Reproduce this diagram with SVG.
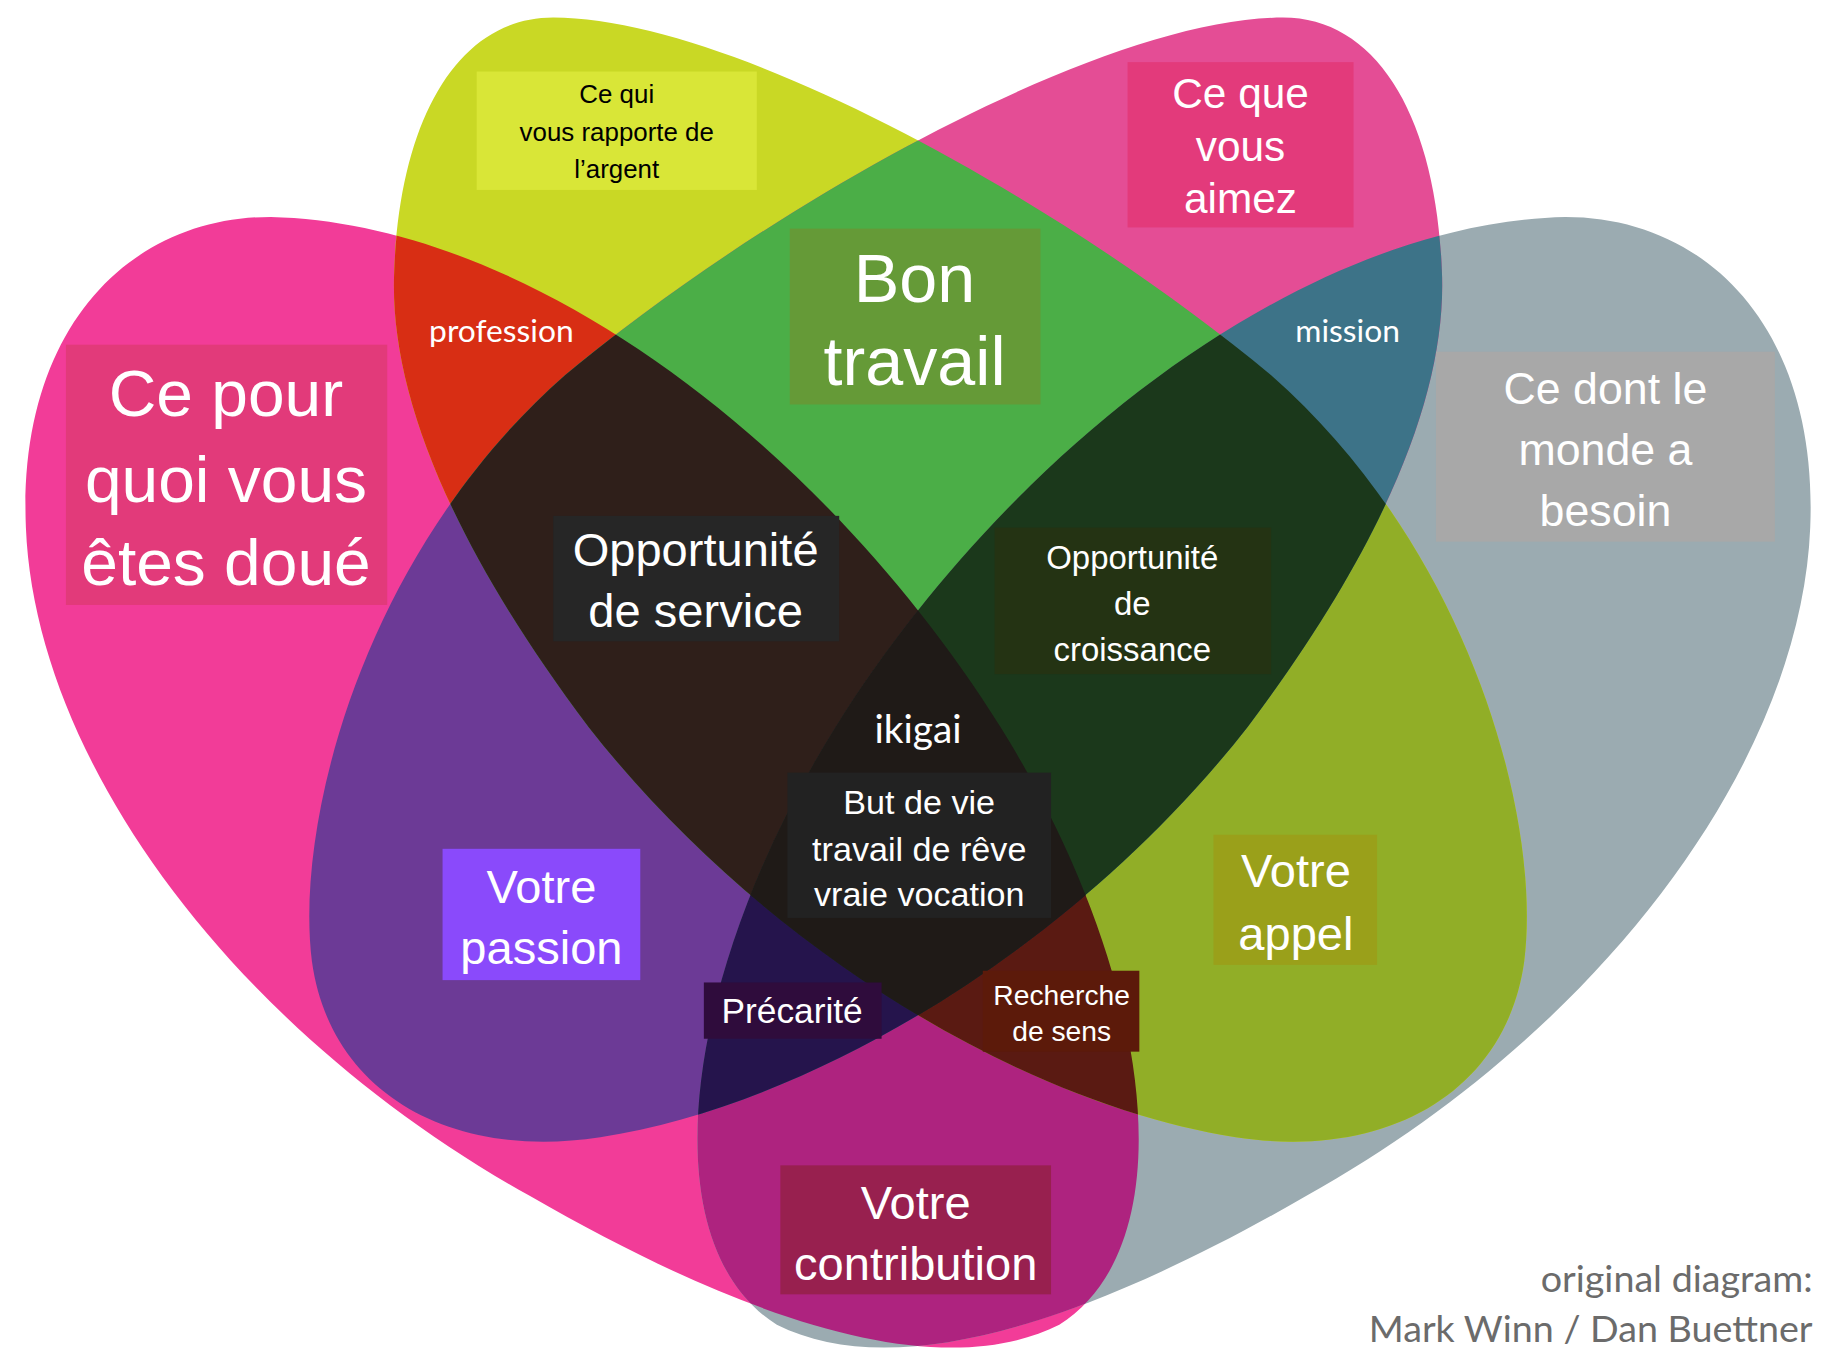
<svg xmlns="http://www.w3.org/2000/svg" xmlns:xlink="http://www.w3.org/1999/xlink" width="1836" height="1360" viewBox="0 0 1836 1360">
<style>
.t{font-family:"Liberation Sans",Arial,sans-serif;text-anchor:middle;fill:#fff}
.r{font-family:Lato,"Open Sans",sans-serif;text-anchor:middle;fill:#fff}
</style>
<defs>
<path id="pP" d="M230,185 C450,190 700,380 850,620 C980,830 1010,1060 900,1130 C800,1180 640,1130 450,1020 C200,880 30,650 22,450 C15,280 110,185 230,185 Z"/>
<path id="pG" transform="translate(1560,0) scale(-1,1)" d="M230,185 C450,190 700,380 850,620 C980,830 1010,1060 900,1130 C800,1180 640,1130 450,1020 C200,880 30,650 22,450 C15,280 110,185 230,185 Z"/>
<path id="pY" d="M470,15 C620,15 900,170 1080,320 C1250,470 1310,700 1295,820 C1280,930 1180,990 1050,970 C860,940 640,800 500,620 C380,460 330,330 335,230 C340,100 390,15 470,15 Z"/>
<path id="pM" transform="translate(1560,0) scale(-1,1)" d="M470,15 C620,15 900,170 1080,320 C1250,470 1310,700 1295,820 C1280,930 1180,990 1050,970 C860,940 640,800 500,620 C380,460 330,330 335,230 C340,100 390,15 470,15 Z"/>
<clipPath id="cP"><use xlink:href="#pP"/></clipPath>
<clipPath id="cG"><use xlink:href="#pG"/></clipPath>
<clipPath id="cY"><use xlink:href="#pY"/></clipPath>
<clipPath id="cM"><use xlink:href="#pM"/></clipPath>
</defs>
<rect width="1836" height="1360" fill="#fff"/>
<g transform="scale(1.177 1.1724)">
<g id="shapes">
<use xlink:href="#pP" fill="#F23C98"/>
<use xlink:href="#pG" fill="#9BABB1"/>
<use xlink:href="#pY" fill="#C9D825"/>
<use xlink:href="#pM" fill="#E44D95"/>
<g clip-path="url(#cP)"><use xlink:href="#pY" fill="#D82E14"/><use xlink:href="#pM" fill="#6C3A96"/><use xlink:href="#pG" fill="#AE237F"/></g>
<g clip-path="url(#cY)"><use xlink:href="#pM" fill="#4BAE47"/><use xlink:href="#pG" fill="#91AE27"/></g>
<g clip-path="url(#cM)"><use xlink:href="#pG" fill="#3D7388"/></g>
<g clip-path="url(#cP)"><g clip-path="url(#cY)"><use xlink:href="#pM" fill="#2F1F1A"/><use xlink:href="#pG" fill="#5A1A12"/></g></g>
<g clip-path="url(#cP)"><g clip-path="url(#cM)"><use xlink:href="#pG" fill="#25144C"/></g></g>
<g clip-path="url(#cY)"><g clip-path="url(#cM)"><use xlink:href="#pG" fill="#1B381B"/></g></g>
<g clip-path="url(#cP)"><g clip-path="url(#cY)"><g clip-path="url(#cM)"><use xlink:href="#pG" fill="#1F1A17"/></g></g></g>
</g>
<g id="n-argent"><rect x="405" y="61" width="238" height="101" fill="#D9E637"/><text class="t" style="fill:#000" font-size="22"><tspan x="524" y="88">Ce qui</tspan><tspan x="524" y="120">vous rapporte de</tspan><tspan x="524" y="152">l’argent</tspan></text></g>
<g id="n-aimez"><rect x="958" y="53" width="192" height="141" fill="#E33A7B"/><text class="t" font-size="36"><tspan x="1054" y="92">Ce que</tspan><tspan x="1054" y="137">vous</tspan><tspan x="1054" y="182">aimez</tspan></text></g>
<g id="n-bon"><rect x="671" y="195" width="213" height="150" fill="#659A37"/><text class="t" font-size="58"><tspan x="777" y="258">Bon</tspan><tspan x="777" y="328">travail</tspan></text></g>
<g id="n-doue"><rect x="56" y="294" width="273" height="222" fill="#E23A7A"/><text class="t" font-size="56"><tspan x="192" y="355">Ce pour</tspan><tspan x="192" y="428">quoi vous</tspan><tspan x="192" y="499">êtes doué</tspan></text></g>
<g id="n-besoin"><rect x="1220" y="300" width="288" height="162" fill="#A8A8A8"/><text class="t" font-size="38"><tspan x="1364" y="345">Ce dont le</tspan><tspan x="1364" y="397">monde a</tspan><tspan x="1364" y="449">besoin</tspan></text></g>
<g id="n-profession"><text class="r" x="426" y="292" font-size="27">profession</text></g>
<g id="n-mission"><text class="r" x="1145" y="292" font-size="27">mission</text></g>
<g id="n-service"><rect x="470" y="440" width="243" height="107" fill="#262626"/><text class="t" font-size="40"><tspan x="591" y="483">Opportunité</tspan><tspan x="591" y="535">de service</tspan></text></g>
<g id="n-croissance"><rect x="845" y="450" width="235" height="125" fill="#243313"/><text class="t" font-size="28"><tspan x="962" y="485">Opportunité</tspan><tspan x="962" y="525">de</tspan><tspan x="962" y="564">croissance</tspan></text></g>
<g id="n-ikigai"><text class="r" x="780" y="634" font-size="33">ikigai</text></g>
<g id="n-but"><rect x="669" y="659" width="224" height="124" fill="#222"/><text class="t" font-size="29"><tspan x="781" y="694">But de vie</tspan><tspan x="781" y="734">travail de rêve</tspan><tspan x="781" y="773">vraie vocation</tspan></text></g>
<g id="n-passion"><rect x="376" y="724" width="168" height="112" fill="#8A4AFB"/><text class="t" font-size="40"><tspan x="460" y="770">Votre</tspan><tspan x="460" y="822">passion</tspan></text></g>
<g id="n-precarite"><rect x="598" y="838" width="151" height="48" fill="#2F0C3C"/><text class="t" x="673" y="873" font-size="30">Précarité</text></g>
<g id="n-sens"><rect x="835" y="828" width="133" height="69" fill="#5C1A0A"/><text class="t" font-size="24"><tspan x="902" y="857">Recherche</tspan><tspan x="902" y="888">de sens</tspan></text></g>
<g id="n-appel"><rect x="1031" y="712" width="139" height="111" fill="#9AA01A"/><text class="t" font-size="40"><tspan x="1101" y="757">Votre</tspan><tspan x="1101" y="810">appel</tspan></text></g>
<g id="n-contribution"><rect x="663" y="994" width="230" height="110" fill="#98204F"/><text class="t" font-size="40"><tspan x="778" y="1040">Votre</tspan><tspan x="778" y="1092">contribution</tspan></text></g>
<g id="credits"><text font-family="Lato,'Open Sans',sans-serif" font-size="32" fill="#6b6b6b" text-anchor="end"><tspan x="1540" y="1102">original diagram:</tspan><tspan x="1540" y="1145">Mark Winn / Dan Buettner</tspan></text></g>
</g>
</svg>
